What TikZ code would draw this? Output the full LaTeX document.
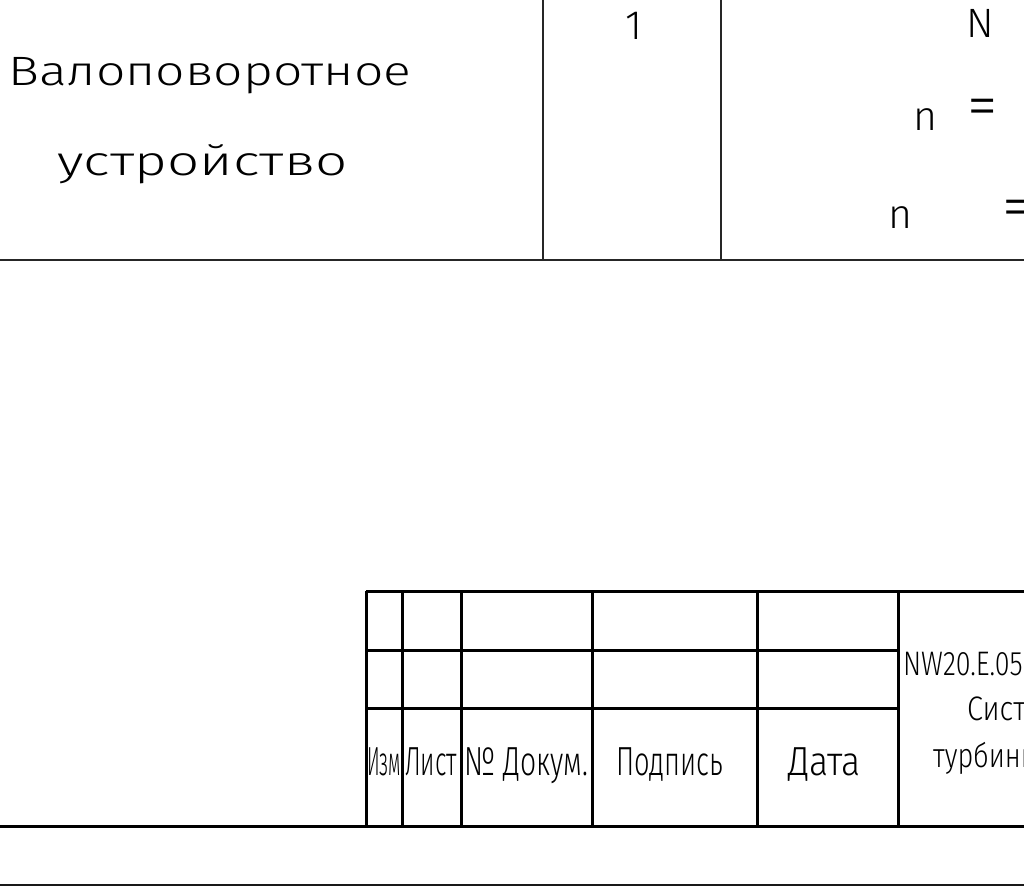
\documentclass[tikz,border=0pt]{standalone}
\usepackage{fontspec}
\usepackage{graphicx}
\setmainfont{Fira Sans}[UprightFont=* Light]
\newcommand\fitw[2]{\resizebox{#1}{\height}{#2}}
\tikzset{
  thinrule/.style={line width=1.6pt, draw=black!85},
  thickrule/.style={line width=3pt, draw=black},
  midrule/.style={line width=2pt, draw=black!90},
  big/.style={inner sep=0pt, font=\fontsize{41}{48}\selectfont},
  gost/.style={inner sep=0pt, font=\fontsize{40.6}{46}\selectfont},
  gostsm/.style={inner sep=0pt, font=\fontsize{34}{40}\selectfont},
}
\begin{document}
\begin{tikzpicture}[x=1pt,y=-1pt]
\path[use as bounding box, fill=white] (0,0) rectangle (1024,887);
\clip (0,0) rectangle (1024,887);
% ---- upper table ----
\draw[thinrule] (0,260) -- (1024,260);
\draw[thinrule] (543,0) -- (543,260);
\draw[thinrule] (721,0) -- (721,260);
\node[big, anchor=base west] (t1) at (8,85) {\fitw{403pt}{Валоповоротное}};
\node[big, anchor=base west] (t2) at (57,175) {\fitw{290pt}{устройство}};
\node[big, anchor=base] (one) at (634,39) {1};
\node[big, anchor=base] (bigN) at (980.5,37) {N};
\node[big, anchor=base] (n1) at (925.5,130) {n};
\node[big, anchor=center] (eq1) at (983,112.5) {\scalebox{1.5}{=}};
\node[big, anchor=base] (n2) at (900,228) {n};
\node[big, anchor=center] (eq2) at (1018,213.5) {\scalebox{1.5}{=}};
% ---- lower frame ----
\draw[thickrule] (0,826) -- (1024,826);
\draw[midrule] (0,885) -- (1024,885);
\draw[thickrule] (366,591) -- (1024,591);
\draw[thickrule] (366,650) -- (898,650);
\draw[thickrule] (366,708) -- (898,708);
\foreach \xx in {366,402,461,592,757,898}
  \draw[thickrule] (\xx,591) -- (\xx,826);
\node[gost, anchor=base] (izm) at (384,775) {\fitw{34pt}{Изм}};
\node[gost, anchor=base] (list) at (431,775) {\fitw{52pt}{Лист}};
\node[gost, anchor=base] (doc) at (526,775) {\fitw{124pt}{№ Докум.}};
\node[gost, anchor=base] (sign) at (669.5,775) {\fitw{107pt}{Подпись}};
\node[gost, anchor=base] (date) at (824.5,775) {\fitw{73pt}{Дата}};
\node[gostsm, anchor=base west, xscale=0.79] (code) at (903,675) {NW20.E.05};
\node[gostsm, anchor=base west, xscale=0.85] (sys) at (967,720) {Система};
\node[gostsm, anchor=base west, xscale=0.8] (turb) at (933,767) {турбины};
\end{tikzpicture}
\end{document}
